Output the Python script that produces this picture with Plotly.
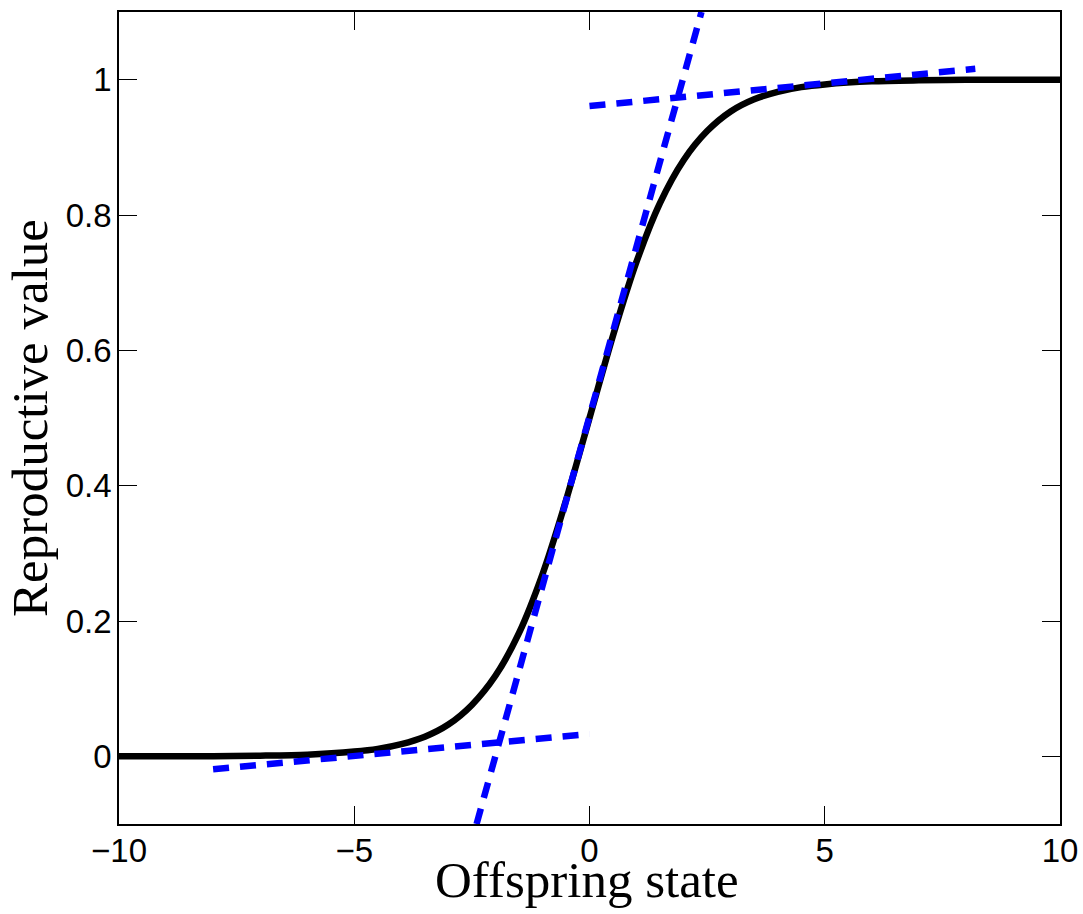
import plotly.graph_objects as go

# Reproductive value curve
curve_x = [-10, -8, -7, -6, -5, -4.5, -4, -3.5, -3, -2.5, -2, -1.5, -1, -0.5, 0,
           0.5, 1, 1.5, 2, 2.5, 3, 3.5, 4, 4.5, 5, 6, 7, 8, 10]
curve_y = [0.000, 0.0003, 0.001, 0.0025, 0.007, 0.011, 0.018, 0.029, 0.047, 0.076,
           0.119, 0.182, 0.269, 0.378, 0.5, 0.622, 0.731, 0.818, 0.881, 0.924,
           0.953, 0.971, 0.982, 0.989, 0.993, 0.9975, 0.999, 0.9997, 1.0]

# Dashed tangent-like lines (endpoints)
steep_x = [-2.4, 2.38]
steep_y = [-0.1, 1.1]
low_x = [-8.0, 0.0]
low_y = [-0.019, 0.033]
high_x = [0.0, 8.2]
high_y = [0.961, 1.016]

x_ticks = [-10, -5, 0, 5, 10]
x_ticktext = ["\u221210", "\u22125", "0", "5", "10"]
y_ticks = [0, 0.2, 0.4, 0.6, 0.8, 1]
y_ticktext = ["0", "0.2", "0.4", "0.6", "0.8", "1"]

x_title = "Offspring state"
y_title = "Reproductive value"

fig = go.Figure()
fig.add_trace(go.Scatter(x=curve_x, y=curve_y, mode="lines",
                         line=dict(color="black", width=6.5, shape="spline", smoothing=0.8),
                         showlegend=False, hoverinfo="skip"))
dash_style = dict(color="#0000FF", width=6.5, dash="16px,11px")
for xs, ys in [(steep_x, steep_y), (low_x, low_y), (high_x, high_y)]:
    fig.add_trace(go.Scatter(x=xs, y=ys, mode="lines", line=dash_style,
                             showlegend=False, hoverinfo="skip"))

tick_font = dict(family="Liberation Sans, Arial, sans-serif", size=33, color="black")
axis_common = dict(showline=True, linecolor="black", linewidth=1.5, mirror="ticks",
                   ticks="inside", ticklen=18, tickwidth=1, tickcolor="black",
                   showgrid=False, zeroline=False, tickfont=tick_font, automargin=False)

fig.update_xaxes(range=[-10, 10], tickvals=x_ticks, ticktext=x_ticktext,
                 ticklabelstandoff=-3, **axis_common)
fig.update_yaxes(range=[-0.1, 1.1], tickvals=y_ticks, ticktext=y_ticktext,
                 ticklabelstandoff=-1, **axis_common)

title_font = dict(family="Liberation Serif, Times New Roman, serif", size=51, color="black")
fig.add_annotation(text=x_title, xref="paper", yref="paper", x=0.497, y=-(880 - 824) / 812,
                   xanchor="center", yanchor="middle", showarrow=False, font=title_font)
fig.add_annotation(text=y_title, xref="paper", yref="paper", x=-(119 - 30) / 941, y=0.5,
                   xanchor="center", yanchor="middle", textangle=-90, showarrow=False,
                   font=title_font)

fig.update_layout(width=1083, height=914, margin=dict(l=119, r=23, t=12, b=90),
                  plot_bgcolor="white", paper_bgcolor="white")

# remove the browser's default 8px body margin so the figure fills the window
fig.write_html("out.html", config={"displayModeBar": False},
               post_script="document.body.style.margin='0px';"
                           "document.body.style.overflow='hidden';")
